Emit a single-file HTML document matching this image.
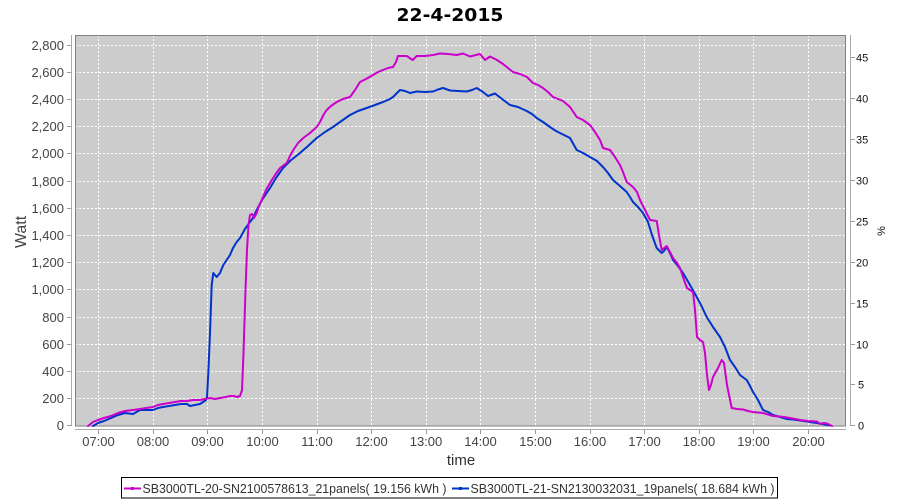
<!DOCTYPE html>
<html>
<head>
<meta charset="utf-8">
<style>
  html, body { margin: 0; padding: 0; background: #ffffff; }
  svg { display: block; }
</style>
</head>
<body>
<svg width="900" height="500" viewBox="0 0 900 500" xmlns="http://www.w3.org/2000/svg">
  <rect x="0" y="0" width="900" height="500" fill="#ffffff"/>

  <!-- Title -->
  <text x="450" y="21" text-anchor="middle" font-family="DejaVu Sans, Liberation Sans, sans-serif" font-weight="bold" font-size="18" textLength="107" lengthAdjust="spacingAndGlyphs" fill="#000">22-4-2015</text>

  <!-- Plot background -->
  <rect x="75" y="35" width="771" height="391" fill="#cccccc"/>

  <!-- Grid lines -->
  <g stroke="#ffffff" stroke-width="1" stroke-dasharray="2,2" fill="none">
    <line x1="75" y1="45.5" x2="846" y2="45.5"/>
    <line x1="75" y1="72.5" x2="846" y2="72.5"/>
    <line x1="75" y1="99.5" x2="846" y2="99.5"/>
    <line x1="75" y1="126.5" x2="846" y2="126.5"/>
    <line x1="75" y1="153.5" x2="846" y2="153.5"/>
    <line x1="75" y1="181.5" x2="846" y2="181.5"/>
    <line x1="75" y1="208.5" x2="846" y2="208.5"/>
    <line x1="75" y1="235.5" x2="846" y2="235.5"/>
    <line x1="75" y1="262.5" x2="846" y2="262.5"/>
    <line x1="75" y1="289.5" x2="846" y2="289.5"/>
    <line x1="75" y1="317.5" x2="846" y2="317.5"/>
    <line x1="75" y1="344.5" x2="846" y2="344.5"/>
    <line x1="75" y1="371.5" x2="846" y2="371.5"/>
    <line x1="75" y1="398.5" x2="846" y2="398.5"/>

    <line x1="98.5" y1="35" x2="98.5" y2="426"/>
    <line x1="153.5" y1="35" x2="153.5" y2="426"/>
    <line x1="207.5" y1="35" x2="207.5" y2="426"/>
    <line x1="262.5" y1="35" x2="262.5" y2="426"/>
    <line x1="317.5" y1="35" x2="317.5" y2="426"/>
    <line x1="371.5" y1="35" x2="371.5" y2="426"/>
    <line x1="426.5" y1="35" x2="426.5" y2="426"/>
    <line x1="480.5" y1="35" x2="480.5" y2="426"/>
    <line x1="535.5" y1="35" x2="535.5" y2="426"/>
    <line x1="590.5" y1="35" x2="590.5" y2="426"/>
    <line x1="644.5" y1="35" x2="644.5" y2="426"/>
    <line x1="699.5" y1="35" x2="699.5" y2="426"/>
    <line x1="753.5" y1="35" x2="753.5" y2="426"/>
    <line x1="808.5" y1="35" x2="808.5" y2="426"/>
  </g>

  <!-- Plot outline -->
  <rect x="75.5" y="35.5" width="770" height="390.5" fill="none" stroke="#808080" stroke-width="1"/>

  <!-- Axes lines -->
  <g stroke="#aaaaaa" stroke-width="1" fill="none">
    <line x1="71.5" y1="35" x2="71.5" y2="426"/>
    <line x1="75" y1="429.5" x2="846" y2="429.5"/>
    <line x1="850.5" y1="35" x2="850.5" y2="426"/>
  </g>

  <!-- Left ticks -->
  <g stroke="#999999" stroke-width="1">
    <line x1="67" y1="45.5" x2="71" y2="45.5"/>
    <line x1="67" y1="72.5" x2="71" y2="72.5"/>
    <line x1="67" y1="99.5" x2="71" y2="99.5"/>
    <line x1="67" y1="126.5" x2="71" y2="126.5"/>
    <line x1="67" y1="153.5" x2="71" y2="153.5"/>
    <line x1="67" y1="181.5" x2="71" y2="181.5"/>
    <line x1="67" y1="208.5" x2="71" y2="208.5"/>
    <line x1="67" y1="235.5" x2="71" y2="235.5"/>
    <line x1="67" y1="262.5" x2="71" y2="262.5"/>
    <line x1="67" y1="289.5" x2="71" y2="289.5"/>
    <line x1="67" y1="317.5" x2="71" y2="317.5"/>
    <line x1="67" y1="344.5" x2="71" y2="344.5"/>
    <line x1="67" y1="371.5" x2="71" y2="371.5"/>
    <line x1="67" y1="398.5" x2="71" y2="398.5"/>
    <line x1="67" y1="425.5" x2="71" y2="425.5"/>
    <!-- bottom ticks -->
    <line x1="98.5" y1="430" x2="98.5" y2="434"/>
    <line x1="153.5" y1="430" x2="153.5" y2="434"/>
    <line x1="207.5" y1="430" x2="207.5" y2="434"/>
    <line x1="262.5" y1="430" x2="262.5" y2="434"/>
    <line x1="317.5" y1="430" x2="317.5" y2="434"/>
    <line x1="371.5" y1="430" x2="371.5" y2="434"/>
    <line x1="426.5" y1="430" x2="426.5" y2="434"/>
    <line x1="480.5" y1="430" x2="480.5" y2="434"/>
    <line x1="535.5" y1="430" x2="535.5" y2="434"/>
    <line x1="590.5" y1="430" x2="590.5" y2="434"/>
    <line x1="644.5" y1="430" x2="644.5" y2="434"/>
    <line x1="699.5" y1="430" x2="699.5" y2="434"/>
    <line x1="753.5" y1="430" x2="753.5" y2="434"/>
    <line x1="808.5" y1="430" x2="808.5" y2="434"/>
    <!-- right ticks -->
    <line x1="851" y1="57.5" x2="855" y2="57.5"/>
    <line x1="851" y1="98.5" x2="855" y2="98.5"/>
    <line x1="851" y1="139.5" x2="855" y2="139.5"/>
    <line x1="851" y1="180.5" x2="855" y2="180.5"/>
    <line x1="851" y1="221.5" x2="855" y2="221.5"/>
    <line x1="851" y1="262.5" x2="855" y2="262.5"/>
    <line x1="851" y1="303.5" x2="855" y2="303.5"/>
    <line x1="851" y1="344.5" x2="855" y2="344.5"/>
    <line x1="851" y1="384.5" x2="855" y2="384.5"/>
    <line x1="851" y1="425.5" x2="855" y2="425.5"/>
  </g>

  <!-- Left tick labels -->
  <g font-family="Liberation Sans, sans-serif" font-size="13" fill="#444444" text-anchor="end">
    <text x="64" y="50">2,800</text>
    <text x="64" y="77">2,600</text>
    <text x="64" y="104">2,400</text>
    <text x="64" y="131">2,200</text>
    <text x="64" y="158">2,000</text>
    <text x="64" y="186">1,800</text>
    <text x="64" y="213">1,600</text>
    <text x="64" y="240">1,400</text>
    <text x="64" y="267">1,200</text>
    <text x="64" y="294">1,000</text>
    <text x="64" y="322">800</text>
    <text x="64" y="349">600</text>
    <text x="64" y="376">400</text>
    <text x="64" y="403">200</text>
    <text x="64" y="430">0</text>
  </g>

  <!-- Bottom tick labels -->
  <g font-family="Liberation Sans, sans-serif" font-size="13" fill="#444444" text-anchor="middle">
    <text x="98.5" y="446">07:00</text>
    <text x="153" y="446">08:00</text>
    <text x="207.5" y="446">09:00</text>
    <text x="262.5" y="446">10:00</text>
    <text x="317" y="446">11:00</text>
    <text x="371.5" y="446">12:00</text>
    <text x="426" y="446">13:00</text>
    <text x="480.5" y="446">14:00</text>
    <text x="535.5" y="446">15:00</text>
    <text x="590" y="446">16:00</text>
    <text x="644.5" y="446">17:00</text>
    <text x="699" y="446">18:00</text>
    <text x="753.5" y="446">19:00</text>
    <text x="808.5" y="446">20:00</text>
  </g>

  <!-- Right tick labels -->
  <g font-family="Liberation Sans, sans-serif" font-size="11" fill="#111111" text-anchor="start">
    <text x="856" y="61.5">45</text>
    <text x="856" y="102.5">40</text>
    <text x="856" y="143.5">35</text>
    <text x="856" y="184.5">30</text>
    <text x="856" y="225.5">25</text>
    <text x="856" y="266.5">20</text>
    <text x="856" y="307.5">15</text>
    <text x="856" y="348.5">10</text>
    <text x="858" y="388.5">5</text>
    <text x="858" y="429.5">0</text>
  </g>

  <!-- Axis labels -->
  <text x="0" y="0" transform="translate(26,232) rotate(-90)" text-anchor="middle" font-family="Liberation Sans, sans-serif" font-size="16" fill="#444444">Watt</text>
  <text x="461" y="465" text-anchor="middle" font-family="Liberation Sans, sans-serif" font-size="15" fill="#333333">time</text>
  <text x="0" y="0" transform="translate(885,231) rotate(-90)" text-anchor="middle" font-family="Liberation Sans, sans-serif" font-size="11" fill="#111111">%</text>

  <!-- Series clipped to plot -->
  <defs>
    <clipPath id="pc"><rect x="75" y="35" width="771" height="392"/></clipPath>
  </defs>
  <g clip-path="url(#pc)" fill="none" stroke-width="2" stroke-linejoin="round" stroke-linecap="round">
    <polyline stroke="#0033cc" points="93,426 98,423 104,421 111,418 118,415 125,413 133,414 140,410 146,410 153,410 158,408 163,407 169,406 175,405 181,404 187,404 190,406 195,405 200,404 203,402 206,400 207,397 208.3,373 210,333 211.7,285 213.3,273 216.7,277 220,273 223.3,265 226,261 230,255 233,248 236.7,242 240,238 245,229 250,222 253,218 256.7,210 262,200 266,194 270,188 276,178 283,168 290,161 300,153 308,146 316.7,138 325,132 333,127 340,122 350,115 358,111 366.7,108 375,105 383,102 390,99 393,97 397,93 400,90 405,91 410,93 416.7,91.5 425,92 433,91.5 438,89.5 443,88 450,90.5 458,91 466.7,91.5 472,90 476.7,88 483,92 488,96 495,93.5 502,99 510,105 518,107 526.7,111 532,114 536.7,118 543,122 550,127 556,131 562,134 570,138 576.7,150 583,153 590,157 597,161 603,167 608,173 613,180 620,186 626.7,192 630,197 633,202 638,207 643,213 648,222 652,235 656.7,248 661.7,253 664,251 666.7,247 670,253 673,260 678,266 683,273 690,285 696.7,297 701,305 706.7,317 713,327 720,337 725,347 730,360 735,367 740,375 746.7,380 750,386 753,392 758,400 763,410 768,412 773,415 780,417 787,419 793,419.5 800,420.5 807,421.5 813,422.5 820,423.5 825,424.5 830,425.5"/>
    <polyline stroke="#cc00cc" points="88,426 93,422 98,420 104,418 111,416 118,413 125,411 133,410 140,409 146,408 153,407 158,405 163,404 169,403 175,402 181,401 187,401 193,400 200,400 205,399 210,398 215,399 220,398 226,397 230,396 234,396 237,397 240,396 242,390 243.5,353 245.5,290 247,250 248.5,225 250,215 252,214 254,218 256.7,213 259,206 261.7,200 266,190 270,183 275,175 280,168 286.7,163 290,156 293.3,150 298,143 303.3,138 310,133 316.7,127 320,122 324,114 326.7,110 331,106 336.7,102 343,99 350,97 355,90 360,82 366,79 373,75 378,72 383,70 388,68 393,67 396,62 398,56 406.7,56 412.7,60 416.7,56 425,56 433,55 440,53.5 448,54 456.7,55 463,53.5 470,56.5 476,55 480,54 485,60 490,56.5 497,60 503,64 508,68 513,72 520,74 527,77 533,83 538,85 543,88 548,92 553,97 558,99 563,101 570,107 576.7,117 583,120 590,125 595,132 600,140 603,148 610,150 615,157 620,165 623,172 626.7,182 633,187 637,192 640,200 645,210 650,220 656.7,221 659,235 661.7,250 666.7,246 670,252 673,258 677,263 680,268 684,280 687,288 693,292 695,310 697,337 700,340 703,342 705,353 707,375 709,390 711,385 713,377 718,368 721.7,360 724,363 727,385 731.7,408 737,409 743,409.5 748,411 753,412 763,413 773,416 780,416.5 787,417.5 795,419 800,420 808,421 817,421.5 820,424 824,423 827,423.5 832,426"/>
  </g>

  <!-- Legend -->
  <rect x="121.5" y="477.5" width="656" height="20.5" fill="#ffffff" stroke="#000000" stroke-width="1"/>
  <line x1="124" y1="488.5" x2="141" y2="488.5" stroke="#cc00cc" stroke-width="2"/>
  <rect x="131" y="487" width="3" height="3" fill="#cc00cc"/>
  <text x="142.5" y="493" font-family="Liberation Sans, sans-serif" font-size="13" fill="#333333" textLength="304" lengthAdjust="spacingAndGlyphs">SB3000TL-20-SN2100578613_21panels( 19.156 kWh )</text>
  <line x1="452" y1="488.5" x2="469" y2="488.5" stroke="#0033cc" stroke-width="2"/>
  <rect x="459" y="487" width="3" height="3" fill="#0033cc"/>
  <text x="470.5" y="493" font-family="Liberation Sans, sans-serif" font-size="13" fill="#333333" textLength="304" lengthAdjust="spacingAndGlyphs">SB3000TL-21-SN2130032031_19panels( 18.684 kWh )</text>
</svg>
</body>
</html>
